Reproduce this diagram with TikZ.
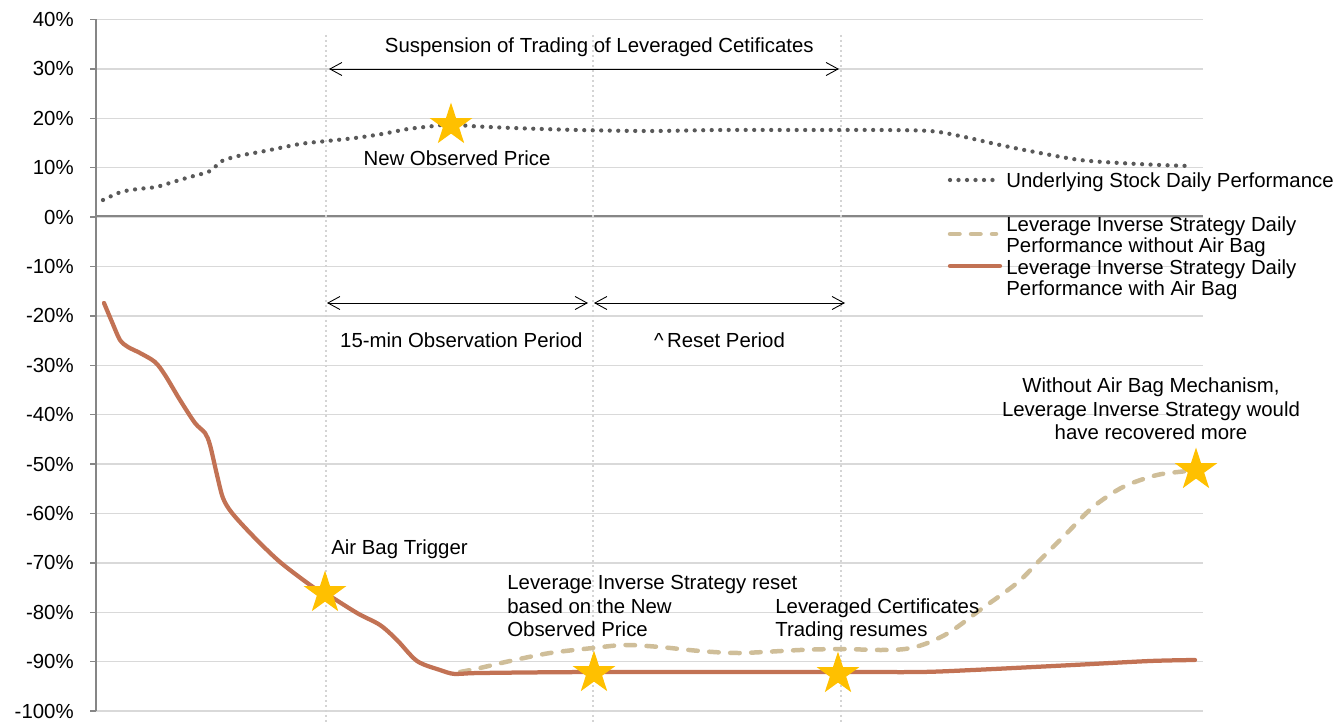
\documentclass[tikz,border=0pt]{standalone}
\usepackage{fontspec}
\setmainfont{Liberation Sans}
\usepackage{tikz}
\usetikzlibrary{arrows.meta,shapes.geometric}

\definecolor{stockgray}{RGB}{89,89,89}
\definecolor{nobagtan}{RGB}{207,190,153}
\definecolor{bagbrown}{RGB}{194,114,84}
\definecolor{stargold}{RGB}{255,192,0}
\definecolor{gridgray}{RGB}{217,217,217}
\definecolor{axisgray}{RGB}{134,134,134}
\definecolor{guidegray}{RGB}{212,212,212}

\begin{document}
\begin{tikzpicture}[x=0.02cm, y=-0.02cm, font=\fontsize{11.6}{13.3}\selectfont,
		>={Straight Barb[length=2.4mm,width=2.6mm]}]
		\tikzstyle{gridline}=[gridgray, line width=0.7pt]
		\tikzstyle{axisline}=[axisgray, line width=0.7pt]
		\tikzstyle{guide}=[guidegray, line width=0.055cm, dash pattern=on 0.05cm off 0.05cm]
		\tikzstyle{stockline}=[stockgray, line width=0.085cm, line cap=round, dash pattern=on 0pt off 0.17cm]
		\tikzstyle{nobagline}=[nobagtan, line width=0.09cm, line cap=round, dash pattern=on 0.19cm off 0.23cm]
		\tikzstyle{bagline}=[bagbrown, line width=0.085cm, line cap=round, line join=round]
		\tikzstyle{goldstar}=[star, star points=5, star point ratio=2.618, fill=stargold, inner sep=0pt, minimum size=0.9cm]
		\tikzstyle{note}=[inner sep=0pt, align=left]
		\tikzstyle{legendtext}=[inner sep=0pt, align=left, anchor=west, font=\fontsize{11.6}{12.2}\selectfont]
		
		\useasboundingbox (0,0) rectangle (1336,723);
		
		% grid and axis
		\foreach \i in {0,...,14} {
			\pgfmathsetmacro\gy{19.5+49.4*\i}
			\pgfmathtruncatemacro\lab{40-10*\i}
			\draw[gridline] (96,\gy) -- (1203,\gy);
			\draw[axisline] (90,\gy) -- (96,\gy);
			\node[anchor=east, inner sep=0pt] (t\i) at (74,\gy) {\lab\%};
		}
		\draw[axisline] (96,216) -- (1203,216);
		\draw[axisline] (96,19.5) -- (96,711);
		
		\draw[guide] (326,35) -- (326,723);
		\draw[guide] (593,35) -- (593,723);
		\draw[guide] (841,35) -- (841,723);
		
		% curves
		\draw[stockline] plot[smooth, tension=0.5] coordinates {
			(103,200) (121,192) (138,189) (156,187) (173,182) (190,177) (208,172)
			(215,167) (222,161) (238,156) (265,151) (300,144) (327,141) (355,138)
			(382,134) (408,129) (434,126) (451,124) (470,126) (513,128) (578,130)
			(650,131) (720,130) (800,130) (880,130) (930,131) (960,136) (1000,145)
			(1040,153) (1080,160) (1120,163) (1160,165) (1190,166)};
		\draw[nobagline] plot[smooth, tension=0.5] coordinates {
			(460,672) (480,668) (510,661) (550,653) (593,648) (625,645) (660,647)
			(700,651) (740,653) (800,650) (840,649) (880,650) (905,649) (925,644)
			(950,632) (980,610) (1017,583) (1040,560) (1067,533) (1093,507)
			(1123,487) (1157,475) (1187,471) (1196,469)};
		\draw[bagline] plot[smooth, tension=0.5] coordinates {
			(104,303) (112,322) (120,340) (128,347) (140,353) (155,362) (165,375)
			(180,400) (195,423) (205,433) (210,445) (217,475) (223,498) (232,513)
			(253,536) (280,562) (313,587) (325,593) (357,613) (380,625) (397,640)
			(417,661) (440,670) (455,674) (480,673) (600,672) (840,672) (920,672)
			(973,670) (1073,665) (1150,661) (1195,660)};
		
		% stars
		\node[goldstar] (obs)    at (451,125) {};
		\node[goldstar] (trig)   at (325,593) {};
		\node[goldstar] (reset)  at (594,673) {};
		\node[goldstar] (resume) at (838,674) {};
		\node[goldstar] (recov)  at (1196,470) {};
		
		% notes
		\node[note] (obstext) at (457,158) {New Observed Price};
		\node[note, anchor=west] (trigtext) at (331,549) {Air Bag Trigger};
		\node[note, anchor=west] (resettext) at (507,606)
			{Leverage Inverse Strategy reset\\based on the New\\Observed Price};
		\node[note, anchor=west] (resumetext) at (775,620)
			{Leveraged Certificates\\Trading resumes};
		\node[note, align=center] (recovtext) at (1151,409)
			{Without Air Bag Mechanism,\\Leverage Inverse Strategy would\\have recovered more};
		
		% legend
		\draw[stockline] (950,180) -- (998,180);
		\node[legendtext] (leg1) at (1006,182) {Underlying Stock Daily Performance};
		\draw[nobagline] (950,234) -- (996,234);
		\node[legendtext] (leg2) at (1006,236.5)
			{Leverage Inverse Strategy Daily\\Performance without Air Bag};
		\draw[bagline] (950,266) -- (1000,266);
		\node[legendtext] (leg3) at (1006,280)
			{Leverage Inverse Strategy Daily\\Performance with Air Bag};
		
		% spans
		\coordinate (s1) at (329,69);
		\coordinate (s2) at (839,69);
		\coordinate (o1) at (327,303);
		\coordinate (o2) at (588,303);
		\coordinate (r1) at (594,303);
		\coordinate (r2) at (845,303);
		
		\path[<->, line width=0.5pt]
		(s1) edge node [pos=.53, above=0.24cm, inner sep=0pt] (susp) {Suspension of Trading of Leveraged Cetificates} (s2)
		(o1) edge node [pos=.515, below=0.58cm, inner sep=0pt] (obsper) {15-min Observation Period} (o2)
		(r1) edge node [pos=.5, below=0.58cm, inner sep=0pt] (resper) {\textasciicircum\,Reset Period} (r2)
		;
\end{tikzpicture}
\end{document}
